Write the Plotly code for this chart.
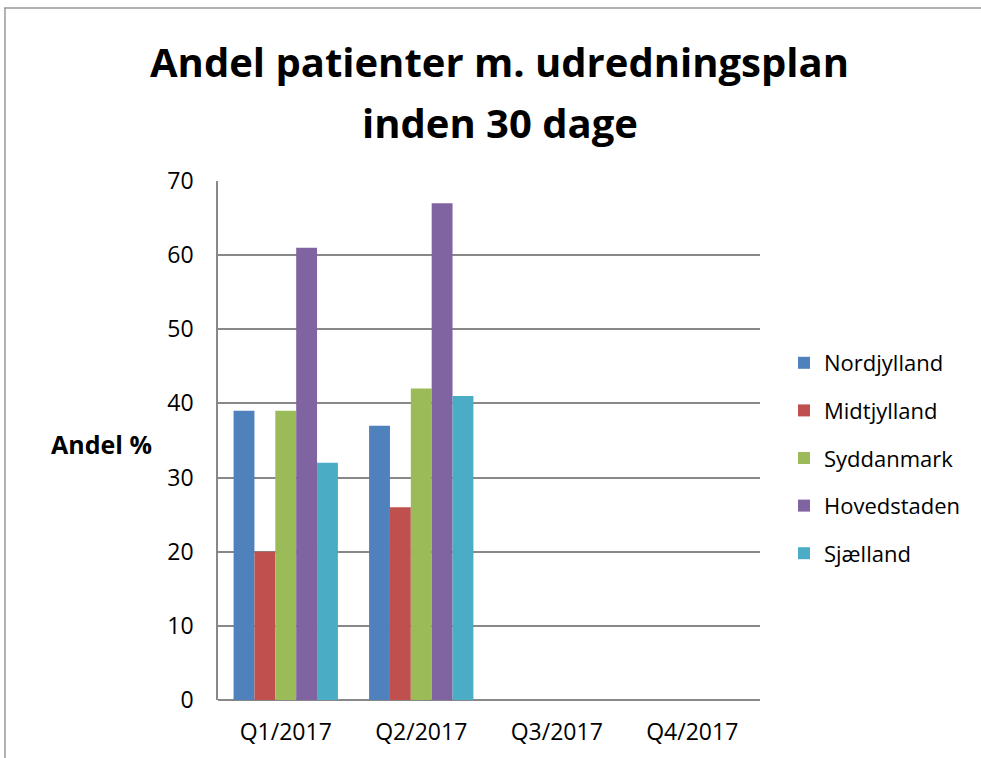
import plotly.graph_objects as go

categories = ["Q1/2017", "Q2/2017", "Q3/2017", "Q4/2017"]
regions = ["Nordjylland", "Midtjylland", "Syddanmark", "Hovedstaden", "Sjælland"]
nordjylland = [39, 37, None, None]
midtjylland = [20, 26, None, None]
syddanmark = [39, 42, None, None]
hovedstaden = [61, 67, None, None]
sjaelland = [32, 41, None, None]
y_ticks = [0, 10, 20, 30, 40, 50, 60, 70]

series = [nordjylland, midtjylland, syddanmark, hovedstaden, sjaelland]
colors = ["#4F81BD", "#C0504D", "#9BBB59", "#8064A2", "#4BACC6"]

W, H = 981, 758
L, R, T, B = 218, 760, 181, 700
PW, PH = R - L, B - T


def px(x):
    return (x - L) / PW


def py(y):
    return (B - y) / PH


fig = go.Figure()
for name, vals, c in zip(regions, series, colors):
    fig.add_trace(go.Bar(x=categories, y=vals, name=name, marker_color=c,
                         marker_line_width=0, legendgroup=name))

font = "Open Sans, Noto Sans, sans-serif"
fig.update_layout(
    width=W, height=H,
    paper_bgcolor="white", plot_bgcolor="white",
    margin=dict(l=L, r=W - R, t=T, b=H - B, autoexpand=False),
    barmode="group", bargap=0.23, bargroupgap=0,
    font=dict(family=font, size=20, color="black"),
    showlegend=True,
    legend=dict(x=px(784), xanchor="left", y=py(458), yanchor="middle",
                font=dict(size=22, family=font), tracegroupgap=16,
                itemwidth=30, bgcolor="rgba(0,0,0,0)"),
    xaxis=dict(showline=False, ticks="", tickfont=dict(size=23),
               showgrid=False, ticklabelstandoff=16),
    yaxis=dict(range=[0, 70], tickvals=y_ticks, showgrid=True,
               gridcolor="#888888", gridwidth=1.5, showline=True,
               linecolor="#888888", linewidth=1.5, ticks="",
               tickfont=dict(size=23), ticklabelstandoff=18, zeroline=True,
               zerolinecolor="#888888", zerolinewidth=1.5),
)
# outer chart frame (top and left edges visible in the reference)
fig.add_shape(type="line", xref="paper", yref="paper",
              x0=px(4), x1=px(W + 5), y0=py(8), y1=py(8),
              line=dict(color="#999999", width=1.5))
fig.add_shape(type="line", xref="paper", yref="paper",
              x0=px(5), x1=px(5), y0=py(8), y1=py(H + 5),
              line=dict(color="#999999", width=1.5))
fig.add_annotation(text="<b>Andel patienter m. udredningsplan</b>",
                   xref="paper", yref="paper", x=px(500), y=py(62),
                   xanchor="center", yanchor="middle", showarrow=False,
                   font=dict(size=40, family=font, color="black"))
fig.add_annotation(text="<b>inden 30 dage</b>",
                   xref="paper", yref="paper", x=px(500), y=py(122),
                   xanchor="center", yanchor="middle", showarrow=False,
                   font=dict(size=40, family=font, color="black"))
fig.add_annotation(text="<b>Andel %</b>", xref="paper", yref="paper",
                   x=px(101), y=py(444),
                   xanchor="center", yanchor="middle", showarrow=False,
                   font=dict(size=25, family=font, color="black"))

fig.write_html("out.html", config={"displayModeBar": False},
               post_script="document.body.style.margin='0';")
